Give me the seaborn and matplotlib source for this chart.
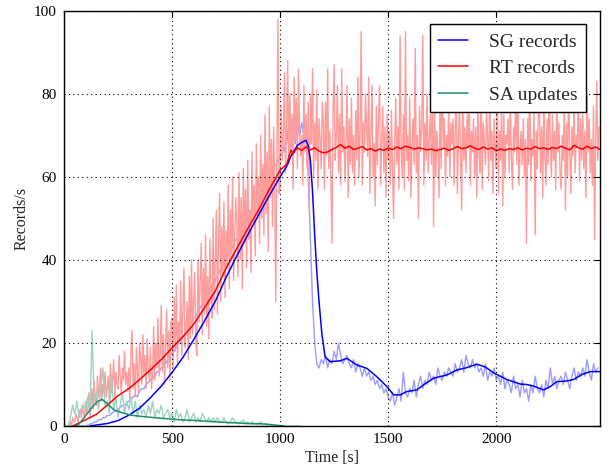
import numpy as np
import pandas as pd
import matplotlib
matplotlib.use("Agg")
import matplotlib.pyplot as plt
import seaborn as sns

# ---------------- data ----------------
rt_step = 5    # RT raw samples every 5 s
step = 10      # SG / SA raw samples every 10 s
rt_raw = [
    0, 0, 0, 0, 0, 0, 1, 0, 2, 1, 1, 3, 2, 1, 3, 4, 2, 5, 3, 2,
    6, 3, 4, 8, 2, 5, 9, 4, 11, 6, 5, 12, 7, 9, 14, 6, 10, 8, 13, 7,
    9, 12, 6, 15, 8, 11, 16, 7, 13, 10, 9, 17, 12, 8, 14, 11, 18, 10, 13, 9,
    14, 6, 18, 23, 9, 15, 7, 19, 13, 8, 20, 16, 10, 22, 12, 17, 9, 21, 14, 11,
    19, 9, 13, 24, 11, 20, 14, 26, 12, 17, 29, 13, 22, 10, 20, 28, 14, 23, 11, 25,
    26, 14, 31, 18, 34, 15, 25, 20, 35, 17, 28, 38, 19, 24, 30, 16, 36, 21, 40, 22,
    30, 37, 20, 17, 40, 25, 35, 44, 22, 38, 27, 46, 24, 36, 21, 45, 31, 26, 50, 28,
    40, 52, 27, 45, 56, 30, 48, 36, 54, 31, 47, 38, 58, 33, 52, 40, 60, 35, 46, 55,
    48, 36, 61, 40, 55, 33, 62, 44, 57, 38, 64, 45, 52, 37, 66, 49, 58, 41, 68, 50,
    60, 44, 70, 50, 63, 46, 75, 51, 66, 42, 77, 55, 69, 48, 72, 58, 30, 64, 98, 56,
    58, 77, 64, 70, 85, 61, 72, 88, 63, 80, 66, 75, 57, 84, 69, 79, 62, 86, 71, 65,
    70, 58, 82, 66, 75, 62, 78, 52, 80, 68,
    86, 60, 73, 64, 81, 57, 74, 69, 62, 78,
    73, 57, 78, 65, 86, 62, 71, 59, 44, 76,
    87, 64, 70, 82, 61, 75, 58, 86, 66, 72,
    59, 69, 82, 55, 74, 63, 79, 61, 70, 58,
    76, 64, 84, 60, 71, 95, 58, 73, 66, 80,
    72, 65, 84, 56, 70, 82, 60, 68, 53, 77,
    63, 74, 82, 58, 69, 77, 61, 72, 55, 75,
    64, 71, 58, 76, 62, 50, 68, 79, 63, 72,
    57, 94, 66, 60, 75, 57, 95, 64, 70, 59,
    79, 55, 68, 74, 63, 91, 61, 70, 50, 77,
    66, 72, 94, 58, 73, 64, 80, 61, 69, 75,
    63, 85, 48, 76, 60, 71, 66, 55, 80, 62,
    91, 67, 74, 58, 70, 65, 78, 60, 73, 68,
    74, 58, 70, 83, 56, 69, 77, 64, 52, 81,
    64, 72, 61, 75, 67, 80, 58, 71, 66, 74,
    60, 72, 55, 79, 66, 61, 85, 57, 73, 68,
    63, 76, 70, 59, 82, 64, 71, 56, 74, 67,
    62, 83, 56, 71, 64, 78, 53, 75, 60, 70,
    68, 74, 61, 79, 65, 57, 72, 66, 80, 63,
    81, 58, 66, 71, 63, 74, 60, 69, 44, 74,
    63, 86, 59, 69, 65, 76, 46, 71, 62, 78,
    77, 61, 72, 55, 80, 65, 58, 74, 63, 82,
    68, 60, 75, 64, 71, 57, 79, 66, 73, 61,
    57, 70, 64, 79, 52, 73, 60, 84, 66, 56,
    72, 65, 78, 61, 70, 67, 81, 59, 74, 64,
    75, 62, 71, 55, 80, 66, 74, 61, 69, 58,
    77, 45, 70, 83, 64, 72,
]
sg_raw = [
    0, 0, 0, 0, 0, 0, 0, 0, 0, 0,
    0, 0.2, 0.5, 0.5, 1, 1, 1.5, 1.5, 2, 2,
    2.5, 2.5, 3, 3.5, 3.5, 4, 4.5, 5, 5, 5.5,
    6, 6.5, 7, 7.5, 7, 8.5, 9, 9, 10, 10.5,
    11, 11.5, 12, 13, 13, 14, 15, 15, 16, 17,
    17.5, 18, 19, 20, 20.5, 21.5, 22, 23, 24, 25,
    26, 26.5, 27.5, 28.5, 29.5, 30, 31.5, 32, 33, 34.5,
    35, 36, 37.5, 38, 39.5, 40, 41, 42.5, 43, 44.5,
    45, 46.5, 47, 48.5, 49, 50.5, 51, 52.5, 53, 54.5,
    55, 56.5, 57, 58.5, 59, 60.5, 61, 62, 63, 64,
    65, 68, 66, 72, 67, 70, 74, 68, 73, 70,
    73, 70, 69, 60, 45, 30, 20, 15, 14, 16,
    15, 17, 14, 16, 15, 18, 16, 20, 17, 15,
    16, 17, 15, 14, 16, 13, 15, 14, 12, 14,
    12, 13, 11, 12, 10, 11, 9, 10, 8, 9,
    7, 6, 8, 5, 7, 9, 6, 13, 8, 7,
    9, 8, 11, 7, 10, 12, 9, 11, 10, 13,
    11, 12, 10, 14, 12, 11, 13, 12, 14, 13,
    12, 15, 13, 14, 16, 13, 17, 15, 14, 16,
    14, 15, 13, 14, 12, 15, 11, 13, 12, 14,
    11, 12, 10, 13, 9, 11, 10, 8, 12, 9,
    10, 7, 11, 8, 9, 6, 10, 8, 12, 9,
    8, 10, 7, 11, 9, 14, 10, 12, 9, 11,
    12, 10, 13, 11, 9, 12, 14, 11, 13, 12,
    14, 12, 16, 13, 11, 15, 13, 14,
]
sa_raw = [
    0, 0, 0, 2, 5, 3, 6, 2, 4, 5,
    4, 7, 3, 23, 6, 8, 4, 9, 14, 5,
    6, 3, 12, 4, 7, 2, 5, 8, 3, 6,
    4, 7, 3, 6, 2, 5, 3, 4, 2, 5,
    3, 6, 2, 4, 3, 5, 2, 3, 4, 2,
    3, 1, 4, 2, 3, 1, 2, 4, 1, 2,
    3, 1, 2, 1, 3, 2, 1, 2, 1, 2,
    1, 2, 1, 1, 2, 1, 0.5, 1, 2, 1,
    1, 0.5, 1, 1.5, 0.5, 1, 0.5, 1, 0.5, 0.5,
    0.5, 1, 0.3, 0.5, 0.2, 0.4, 0.2, 0.1, 0.2, 0,
    0, 0, 0, 0, 0, 0, 0, 0, 0, 0,
]

rt_t = [40, 100, 150, 200, 250, 300, 350, 400, 450, 500, 550, 600, 650, 700,
        750, 800, 850, 900, 950, 1000, 1030, 1050, 1060, 1080, 1100,
        1120, 1140, 1160, 1180, 1200, 1220, 1240, 1260, 1280, 1300, 1320,
        1340, 1360, 1380, 1400, 1420, 1440, 1460, 1480, 1500, 1520, 1540,
        1560, 1580, 1600, 1620, 1640, 1660, 1680, 1700, 1720, 1740, 1760,
        1780, 1800, 1820, 1840, 1860, 1880, 1900, 1920, 1940, 1960, 1980,
        2000, 2020, 2040, 2060, 2080, 2100, 2120, 2140, 2160, 2180, 2200,
        2220, 2240, 2260, 2280, 2300, 2320, 2340, 2360, 2380, 2400, 2420,
        2440, 2460, 2480]
rt_smooth = [0, 1.5, 2.8, 5.0, 7.3, 9.0, 11.2, 13.5, 16.0, 18.8, 21.5, 24.5,
             28.5, 32.5, 38.0, 42.8, 47.5, 52.0, 57.0, 61.6, 63.0, 66.4, 65.6,
             67.0, 66.4,
             67.2, 66.5, 67.0, 66.2, 65.8, 66.0, 66.6, 67.1, 67.8, 66.9, 67.4,
             66.6, 66.9, 67.3, 66.5, 66.8, 66.2, 66.7, 66.4, 66.9, 66.6, 67.2,
             66.8, 67.4, 67.1, 66.7, 67.0, 66.8, 66.5, 66.7, 66.3, 66.6, 66.9,
             66.4, 66.8, 67.3, 66.8, 67.0, 67.5, 66.9, 66.6, 67.2, 66.7, 67.0,
             66.3, 66.7, 66.4, 66.8, 66.6, 67.0, 66.5, 66.9, 66.7, 67.3, 66.8,
             67.0, 66.6, 67.1, 66.8, 67.4, 66.9, 66.5, 67.6, 67.0, 66.7, 67.4,
             66.8, 67.2, 66.6]

sg_t = [120, 200, 250, 300, 350, 400, 450, 500, 550, 600, 650, 700, 750, 800,
        850, 900, 950, 1000, 1030, 1050, 1080, 1100, 1120, 1130, 1140, 1150,
        1160, 1170, 1180, 1193, 1208, 1231, 1278, 1309, 1355, 1401, 1447,
        1494, 1525, 1556, 1586, 1633, 1663, 1710, 1741, 1772, 1818, 1860,
        1910, 1950, 1988, 2049, 2111, 2140, 2173, 2219, 2250, 2281, 2320,
        2358, 2400, 2435, 2480]
sg_smooth = [0, 0.6, 1.3, 2.6, 4.3, 6.8, 9.6, 12.9, 16.5, 20.8, 25.3, 30.0,
             35.8, 41.0, 46.0, 50.8, 55.5, 60.0, 62.5, 65.0, 67.6, 68.3, 68.8,
             67.5, 64.0, 56.5, 46.0, 37.0, 30.0, 22.3, 16.7, 15.5, 15.7, 16.3,
             14.7, 13.9, 11.9, 9.5, 7.5, 7.5, 8.3, 8.7, 9.9, 11.5, 11.9, 12.3,
             13.5, 14.0, 14.9, 14.2, 12.8, 11.2, 10.1, 10.0, 9.6, 8.7, 9.5,
             10.7, 10.8, 11.2, 12.5, 13.1, 13.1]

sa_t = [40, 62, 85, 108, 130, 154, 177, 200, 231, 270, 309, 380, 463, 540,
        617, 700, 772, 850, 926, 980, 1020]
sa_smooth = [0, 0, 1.5, 3.0, 4.5, 5.9, 6.4, 5.4, 3.9, 3.2, 2.6, 2.2, 1.8, 1.5,
             1.3, 1.0, 0.8, 0.6, 0.5, 0.2, 0]

labels = ["SG records", "RT records", "SA updates"]
x_ticks = [0, 500, 1000, 1500, 2000]
y_ticks = [0, 20, 40, 60, 80, 100]

# ---------------- style ----------------
sns.set_style("white")
plt.rcParams["font.family"] = ["Liberation Serif", "DejaVu Serif"]

fig = plt.figure(figsize=(6.11, 4.70), dpi=100)
ax = fig.add_axes([0.1047, 0.0936, 0.8773, 0.8834])

light_blue = "#9c9cff"
light_red = "#ff9c9c"
light_teal = "#9ed2c2"
blue = "#0000ff"
red = "#ff0000"
teal = "#1b8f6e"

sns.lineplot(x=np.arange(len(sg_raw)) * step, y=sg_raw, ax=ax,
             color=light_blue, lw=1.0)
sns.lineplot(x=np.arange(len(rt_raw)) * rt_step, y=rt_raw, ax=ax,
             color=light_red, lw=1.0)
sns.lineplot(x=np.arange(len(sa_raw)) * step, y=sa_raw, ax=ax,
             color=light_teal, lw=1.0)

sns.lineplot(x=sg_t, y=sg_smooth, ax=ax, color=blue, lw=1.1, label=labels[0])
sns.lineplot(x=rt_t, y=rt_smooth, ax=ax, color=red, lw=1.1, label=labels[1])
sns.lineplot(x=sa_t, y=sa_smooth, ax=ax, color=teal, lw=1.1, label=labels[2])

ax.set_xlim(0, 2480)
ax.set_ylim(0, 100)
ax.set_xticks(x_ticks)
ax.set_yticks(y_ticks)
ax.tick_params(direction="in", top=True, right=True, length=4, width=0.8,
               labelsize=11, pad=5, colors="black")
for s in ax.spines.values():
    s.set_color("black")
    s.set_linewidth(1.0)
ax.grid(True, color="black", linestyle=(0, (1, 3)), linewidth=0.8)
ax.set_axisbelow(False)

ax.set_xlabel("Time [s]", fontsize=11.5, labelpad=3)
ax.set_ylabel("Records/s", fontsize=11.5, labelpad=3)

leg = ax.legend(loc="upper right", fontsize=14, frameon=True, fancybox=False,
                edgecolor="black", framealpha=1.0, handlelength=1.5,
                handletextpad=1.1, labelspacing=0.45, borderpad=0.45,
                borderaxespad=0.7)
leg.get_frame().set_linewidth(1.0)

fig.savefig("out.png", dpi=100)
